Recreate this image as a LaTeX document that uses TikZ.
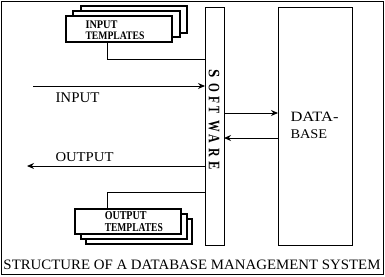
\documentclass[tikz,border=0pt]{standalone}
\usepackage{fontspec}
\setmainfont{Liberation Serif}
\usetikzlibrary{arrows.meta}
\newcommand{\fitto}[3]{\resizebox{#1pt}{#2pt}{#3}}
\begin{document}
\begin{tikzpicture}[x=1pt,y=-1pt, line width=1pt,
  box/.style={draw, fill=white, inner sep=0pt, outer sep=0pt, anchor=north west},
  tbox/.style={box, line width=1.3pt},
  lab/.style={inner sep=0pt, anchor=base west},
  arr/.style={-{Stealth[length=7pt,width=6pt]}},
  swl/.style={rotate=-90, inner sep=0pt, font=\bfseries}]
\useasboundingbox (0,0) rectangle (385,276);
\node[box, minimum width=382pt, minimum height=273pt] (frame) at (1,1) {};
% software and database
\node[box, minimum width=19pt, minimum height=238pt] (sw) at (205,7) {};
\node[box, minimum width=74pt, minimum height=238pt] (db) at (278,7) {};
% input templates
\node[tbox, minimum width=106pt, minimum height=27pt] (inB) at (81,6) {};
\node[tbox, minimum width=107pt, minimum height=26pt] (inM) at (73,11) {};
\node[tbox, minimum width=106pt, minimum height=26pt] (inF) at (66,16) {};
% output templates
\node[tbox, minimum width=106pt, minimum height=25pt] (outB) at (86,219) {};
\node[tbox, minimum width=106pt, minimum height=25pt] (outM) at (81,214) {};
\node[tbox, minimum width=106pt, minimum height=25pt] (outF) at (75,209) {};
% connectors
\coordinate (inA) at (107,59);
\draw (inF.south -| inA) -- (inA) -- (inA -| sw.west);
\coordinate (outA) at (107,192);
\draw (sw.west |- outA) -- (outA) -- (outA |- outF.north);
\coordinate (inS) at (33,86);
\draw[arr] (inS) -- (inS -| sw.west);
\coordinate (outE) at (27,166);
\draw[arr] (outE -| sw.west) -- (outE);
\coordinate (c1) at (0,113);
\draw[arr] (c1 -| sw.east) -- (c1 -| db.west);
\coordinate (c2) at (0,138);
\draw[arr] (c2 -| db.west) -- (c2 -| sw.east);
% labels
\node[lab] (lin) at (55,102) {\fitto{44}{9.7}{INPUT}};
\node[lab] (lout) at (55,161.7) {\fitto{58}{9}{OUTPUT}};
\node[lab] (ldata) at (290,121.7) {\fitto{48}{9.4}{DATA-}};
\node[lab] (lbase) at (290,138.8) {\fitto{36.7}{8.8}{BASE}};
\node[lab] (t1) at (85,28.3) {\fitto{32}{7.6}{\bfseries INPUT}};
\node[lab] (t2) at (85,39.3) {\fitto{59}{7.6}{\bfseries TEMPLATES}};
\node[lab] (t3) at (104.3,219.8) {\fitto{41.7}{8}{\bfseries OUTPUT}};
\node[lab] (t4) at (104.3,231) {\fitto{58}{8}{\bfseries TEMPLATES}};
\node[lab] (cap) at (3,269.5) {\fitto{377}{9.5}{STRUCTURE OF A DATABASE MANAGEMENT SYSTEM}};
% SOFTWARE letters
\foreach \l/\yy/\ww [count=\i] in {S/74/8.3,O/87.5/8.8,F/100/7,T/110/7,W/126/11.7,A/139/8.6,R/152.5/8.6,E/166/8.3}
  \node[swl] (swl\i) at (214,\yy) {\fitto{\ww}{10.5}{\l}};
\end{tikzpicture}
\end{document}
